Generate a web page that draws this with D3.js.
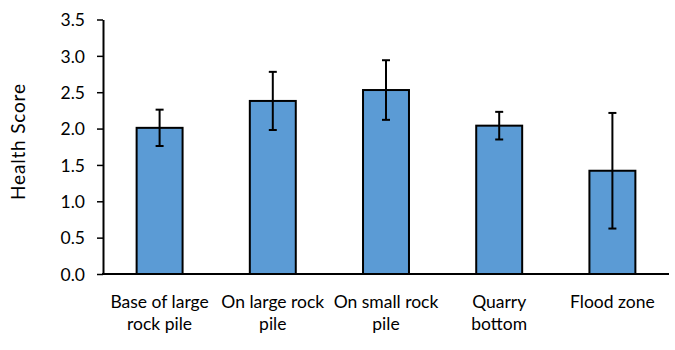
<!DOCTYPE html>
<html><head><meta charset="utf-8">
<script src="https://cdn.jsdelivr.net/npm/d3@7"></script>
<style>body{margin:0;background:#fff}svg{display:block}text{font-family:Lato,"Noto Sans",sans-serif}</style>
</head><body>
<svg id="chart" width="675" height="350"></svg>
<script>
const categories = [["Base of large","rock pile"],["On large rock","pile"],["On small rock","pile"],["Quarry","bottom"],["Flood zone"]];
const values = [2.01, 2.38, 2.53, 2.04, 1.42];
const errors = [0.25, 0.40, 0.41, 0.19, 0.795];
const yTicks = [0,0.5,1,1.5,2,2.5,3,3.5];

const svg = d3.select("#chart");
const mLeft = 103, mRight = 669, mTop = 19.5, mBottom = 274;
const x = d3.scaleBand().domain(d3.range(categories.length)).range([mLeft,mRight]).paddingInner(0.594).paddingOuter(0.297);
const y = d3.scaleLinear().domain([0,3.5]).range([mBottom,mTop]);

const yAxis = svg.append("g").attr("transform",`translate(${mLeft},0)`)
  .call(d3.axisLeft(y).tickValues(yTicks).tickFormat(d3.format(".1f")).tickSize(6).tickSizeOuter(0));
yAxis.attr("font-family",null).attr("font-size",null);
yAxis.select(".domain").attr("stroke","#000").attr("stroke-width",2);
yAxis.selectAll(".tick line").attr("stroke","#000").attr("stroke-width",1.5);
yAxis.selectAll(".tick text").attr("font-size",17.5).attr("fill","#000").attr("x",-18).attr("dy","0.36em");

const g = svg.append("g");
g.selectAll("rect").data(values).join("rect")
  .attr("x",(d,i)=>x(i)).attr("width",x.bandwidth())
  .attr("y",d=>y(d)).attr("height",d=>mBottom-y(d))
  .attr("fill","#5B9BD5").attr("stroke","#000").attr("stroke-width",2);

const eb = svg.append("g").attr("stroke","#000").attr("stroke-width",2);
values.forEach((v,i)=>{
  const cx = x(i)+x.bandwidth()/2;
  eb.append("line").attr("x1",cx).attr("x2",cx).attr("y1",y(v+errors[i])).attr("y2",y(v-errors[i]));
  eb.append("line").attr("x1",cx-4).attr("x2",cx+4).attr("y1",y(v+errors[i])).attr("y2",y(v+errors[i]));
  eb.append("line").attr("x1",cx-4).attr("x2",cx+4).attr("y1",y(v-errors[i])).attr("y2",y(v-errors[i]));
});

svg.append("line").attr("x1",mLeft-1).attr("x2",mRight).attr("y1",mBottom).attr("y2",mBottom).attr("stroke","#000").attr("stroke-width",2);

const xl = svg.append("g");
categories.forEach((lines,i)=>{
  const cx = x(i)+x.bandwidth()/2;
  const t = xl.append("text").attr("x",cx).attr("y",307.5).attr("text-anchor","middle").attr("font-size",17.5).attr("fill","#000");
  lines.forEach((s,j)=>t.append("tspan").attr("x",cx).attr("dy",j?22.5:0).text(s));
});

svg.append("text").attr("transform","translate(25,142) rotate(-90)").attr("text-anchor","middle")
  .attr("font-size",19).attr("textLength",116).attr("lengthAdjust","spacing")
  .attr("fill","#000").text("Health Score");
</script>
</body></html>
